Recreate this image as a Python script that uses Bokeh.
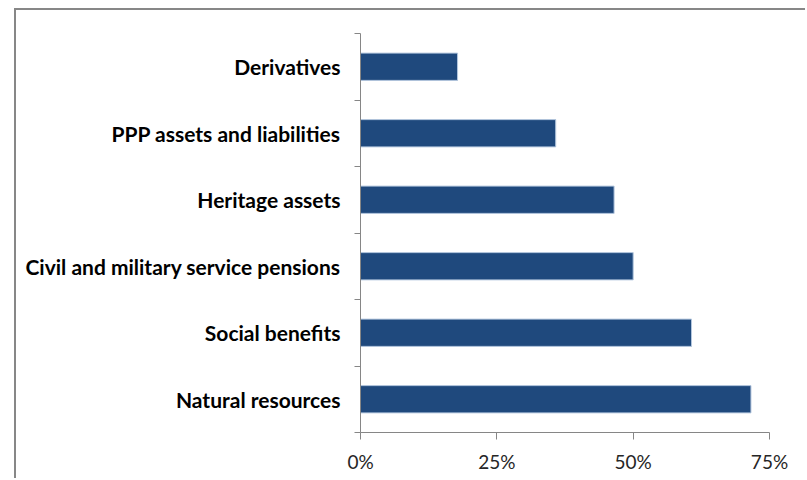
from bokeh.plotting import figure
from bokeh.models import FixedTicker, NumeralTickFormatter, ColumnDataSource, Range1d
from bokeh.embed import file_html
from bokeh.resources import INLINE

categories = ["Derivatives", "PPP assets and liabilities", "Heritage assets",
              "Civil and military service pensions", "Social benefits", "Natural resources"]
values = [0.178, 0.358, 0.465, 0.500, 0.607, 0.716]
x_ticks = [0, 0.25, 0.5, 0.75]

n = len(categories)
ypos = [n - i - 0.5 for i in range(n)]

source = ColumnDataSource(dict(cat=categories, val=values, y=ypos))

p = figure(width=791, height=470, output_backend="svg", toolbar_location=None,
           x_range=Range1d(0, 0.75), y_range=Range1d(0, n),
           min_border_left=344, min_border_right=38, min_border_top=23, min_border_bottom=48)
p.margin = (8, 0, 0, 14)
p.styles = {"border-top": "2px solid #878787", "border-left": "2px solid #878787"}
p.outline_line_color = None
p.background_fill_color = "white"
p.border_fill_color = "white"
p.xgrid.visible = False
p.ygrid.visible = False

p.hbar(y="y", right="val", left=0, height=0.41, source=source,
       fill_color="#1F497D", line_color="#B4C7DE", line_width=1)

# x axis
p.xaxis.ticker = FixedTicker(ticks=x_ticks)
p.xaxis.formatter = NumeralTickFormatter(format="0%")
p.xaxis.axis_line_color = "#868686"
p.xaxis.major_tick_line_color = "#868686"
p.xaxis.major_tick_out = 7
p.xaxis.major_tick_in = 0
p.xaxis.minor_tick_line_color = None
p.xaxis.major_label_text_font = "Lato"
p.xaxis.major_label_text_font_size = "19px"
p.xaxis.major_label_text_color = "#262626"
p.xaxis.major_label_standoff = 10

# y axis
p.yaxis.ticker = FixedTicker(ticks=ypos, minor_ticks=list(range(n + 1)))
p.yaxis.major_label_overrides = {y: c for y, c in zip(ypos, categories)}
p.yaxis.axis_line_color = "#868686"
p.yaxis.major_tick_line_color = None
p.yaxis.major_tick_out = 0
p.yaxis.major_tick_in = 0
p.yaxis.minor_tick_line_color = "#868686"
p.yaxis.minor_tick_out = 6
p.yaxis.minor_tick_in = 0
p.yaxis.major_label_text_font = "Lato"
p.yaxis.major_label_text_font_style = "bold"
p.yaxis.major_label_text_font_size = "21px"
p.yaxis.major_label_text_color = "#000000"
p.yaxis.major_label_standoff = 14

open("out.html", "w").write(file_html(p, INLINE))
